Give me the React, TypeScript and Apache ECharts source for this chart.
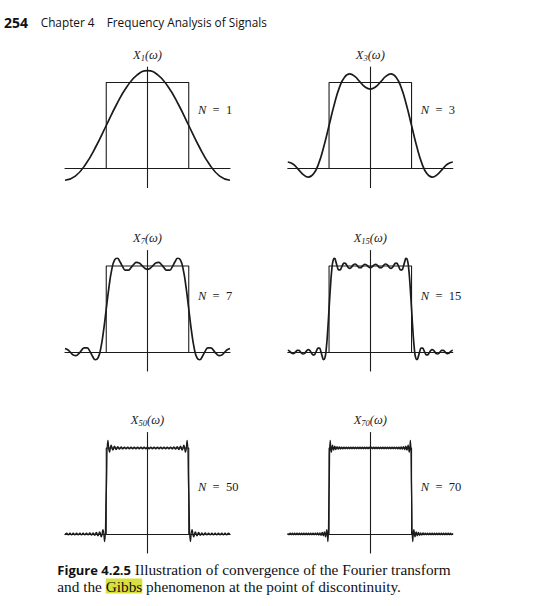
import React, { useEffect, useRef } from 'react';
import * as echarts from 'echarts';

// ω axis in degrees, from -π (-180) to π (180)
const omegaStart = -180;

// X1(ω), sampled every 22.5°
const x1Step = 22.5;
const x1Values = [-0.137, -0.088, 0.050, 0.256, 0.5, 0.744, 0.950, 1.088, 1.137, 1.088, 0.950, 0.744, 0.5, 0.256, 0.050, -0.088, -0.137];

// X3(ω), sampled every 11.25°
const x3Step = 11.25;
const x3Values = [0.076, 0.052, -0.007, -0.071, -0.100, -0.062, 0.060, 0.258, 0.5, 0.742, 0.940, 1.062, 1.100, 1.071, 1.007, 0.948, 0.924, 0.948, 1.007, 1.071, 1.100, 1.062, 0.940, 0.742, 0.5, 0.258, 0.060, -0.062, -0.100, -0.071, -0.007, 0.052, 0.076];

// X7(ω), sampled every 6°
const x7Step = 6;
const x7Values = [0.039, 0.026, -0.005, -0.034, -0.041, -0.020, 0.019, 0.049, 0.049, 0.010, -0.049, -0.090, -0.069, 0.042, 0.243, 0.5, 0.757, 0.958, 1.069, 1.090, 1.049, 0.990, 0.951, 0.951, 0.981, 1.020, 1.041, 1.034, 1.005, 0.974,
  0.961,
  0.974, 1.005, 1.034, 1.041, 1.020, 0.981, 0.951, 0.951, 0.990, 1.049, 1.090, 1.069, 0.958, 0.757, 0.5, 0.243, 0.042, -0.069, -0.090, -0.049, 0.010, 0.049, 0.049, 0.019, -0.020, -0.041, -0.034, -0.005, 0.026, 0.039];

// X15(ω), sampled every 3°
const x15Step = 3;
const x15Values = [0.020, 0.013, -0.002, -0.016, -0.020, -0.010, 0.007, 0.020, 0.020, 0.006, -0.012, -0.023, -0.019, -0.001, 0.019, 0.028, 0.018, -0.006, -0.029, -0.034, -0.016, 0.018, 0.046, 0.045, 0.009, -0.048, -0.088, -0.068, 0.043, 0.243, 0.5, 0.757, 0.957, 1.068, 1.088, 1.048, 0.991, 0.955, 0.954, 0.982, 1.016, 1.034, 1.029, 1.006, 0.982, 0.972, 0.981, 1.001, 1.019, 1.023, 1.012, 0.994, 0.980, 0.980, 0.993, 1.010, 1.020, 1.016, 1.002, 0.987,
  0.980,
  0.987, 1.002, 1.016, 1.020, 1.010, 0.993, 0.980, 0.980, 0.994, 1.012, 1.023, 1.019, 1.001, 0.981, 0.972, 0.982, 1.006, 1.029, 1.034, 1.016, 0.982, 0.954, 0.955, 0.991, 1.048, 1.088, 1.068, 0.957, 0.757, 0.5, 0.243, 0.043, -0.068, -0.088, -0.048, 0.009, 0.045, 0.046, 0.018, -0.016, -0.034, -0.029, -0.006, 0.018, 0.028, 0.019, -0.001, -0.019, -0.023, -0.012, 0.006, 0.020, 0.020, 0.007, -0.010, -0.020, -0.016, -0.002, 0.013, 0.020];

// X50(ω), ripple extrema every 3.6°
const x50Step = 3.6;
const x50Values = [-0.010, 0.010, -0.010, 0.010, -0.010, 0.010, -0.010, 0.010, -0.010, 0.010, -0.010, 0.010, -0.010, 0.010, -0.010, 0.011, -0.012, 0.013, -0.014, 0.017, -0.020, 0.025, -0.033, 0.049, -0.089, 0.5, 1.089, 0.951, 1.033, 0.975, 1.020, 0.983, 1.014, 0.987, 1.012, 0.989, 1.010, 0.990, 1.010, 0.990, 1.010, 0.990, 1.010, 0.990, 1.010, 0.990, 1.010, 0.990, 1.010, 0.990,
  1.010,
  0.990, 1.010, 0.990, 1.010, 0.990, 1.010, 0.990, 1.010, 0.990, 1.010, 0.990, 1.010, 0.990, 1.010, 0.989, 1.012, 0.987, 1.014, 0.983, 1.020, 0.975, 1.033, 0.951, 1.089, 0.5, -0.089, 0.049, -0.033, 0.025, -0.020, 0.017, -0.014, 0.013, -0.012, 0.011, -0.010, 0.010, -0.010, 0.010, -0.010, 0.010, -0.010, 0.010, -0.010, 0.010, -0.010, 0.010, -0.010, 0.010, -0.010];

// X70(ω), ripple extrema every 2.5°
const x70Step = 2.5;
const x70Values = [0.008, -0.008, 0.008, -0.008, 0.008, -0.008, 0.008, -0.008, 0.008, -0.008, 0.008, -0.008, 0.008, -0.008, 0.008, -0.008, 0.008, -0.008, 0.008, -0.008, 0.008, -0.008, 0.008, -0.008, 0.008,
  -0.009, 0.011, -0.012, 0.013, -0.014, 0.017, -0.020, 0.025, -0.033, 0.049, -0.089, 0.5, 1.089, 0.951, 1.033, 0.975, 1.020, 0.983, 1.014, 0.987, 1.012, 0.989, 1.009,
  0.991, 1.008, 0.992, 1.008, 0.992, 1.008, 0.992, 1.008, 0.992, 1.008, 0.992, 1.008, 0.992, 1.008, 0.992, 1.008, 0.992, 1.008, 0.992, 1.008, 0.992, 1.008, 0.992, 1.008,
  0.992,
  1.008, 0.992, 1.008, 0.992, 1.008, 0.992, 1.008, 0.992, 1.008, 0.992, 1.008, 0.992, 1.008, 0.992, 1.008, 0.992, 1.008, 0.992, 1.008, 0.992, 1.008, 0.992, 1.008, 0.991,
  1.009, 0.989, 1.012, 0.987, 1.014, 0.983, 1.020, 0.975, 1.033, 0.951, 1.089, 0.5, -0.089, 0.049, -0.033, 0.025, -0.020, 0.017, -0.014, 0.013, -0.012, 0.011, -0.009,
  0.008, -0.008, 0.008, -0.008, 0.008, -0.008, 0.008, -0.008, 0.008, -0.008, 0.008, -0.008, 0.008, -0.008, 0.008, -0.008, 0.008, -0.008, 0.008, -0.008, 0.008, -0.008, 0.008, -0.008, 0.008];

// ideal rectangular spectrum X(ω), cutoff ωc = π/2
const rectOmega = [-90, -90, 90, 90];
const rectValue = [0, 1, 1, 0];

const panelN = ['1', '3', '7', '15', '50', '70'];
const panelValues = [x1Values, x3Values, x7Values, x15Values, x50Values, x70Values];
const panelSteps = [x1Step, x3Step, x7Step, x15Step, x50Step, x70Step];

const INK = '#1b1b1b';
const SERIF = '"Liberation Serif", "DejaVu Serif", serif';
const SANS = '"Open Sans", "Noto Sans", sans-serif';
const NB = '\u00A0';

export default function App() {
  const ref = useRef<HTMLDivElement>(null);

  useEffect(() => {
    if (!ref.current) return;
    const chart = echarts.init(ref.current, null, { renderer: 'svg' });

    const colCenters = [147.5, 370.3];
    const baselines = [168.5, 352, 534];
    const nLabelY = [110, 296, 486.5];
    const halfW = 82.5;
    const unit = 86;
    const yMax = 1.18;
    const yMin = -0.22;

    const grids: any[] = [];
    const xAxes: any[] = [];
    const yAxes: any[] = [];
    const series: any[] = [];
    const graphics: any[] = [];

    panelN.forEach((n, i) => {
      const col = i % 2;
      const row = Math.floor(i / 2);
      const cx = colCenters[col];
      const base = baselines[row];
      grids.push({
        left: cx - halfW,
        top: base - yMax * unit,
        width: halfW * 2,
        height: (yMax - yMin) * unit,
        containLabel: false,
      });
      xAxes.push({
        gridIndex: i,
        type: 'value',
        min: -180,
        max: 180,
        axisLine: { show: true, onZero: true, lineStyle: { color: INK, width: 1.1 } },
        axisTick: { show: false },
        axisLabel: { show: false },
        splitLine: { show: false },
      });
      yAxes.push({
        gridIndex: i,
        type: 'value',
        min: yMin,
        max: yMax,
        name: `{x|X}{s|${n}}{x|(ω)}`,
        nameLocation: 'end',
        nameGap: 5,
        nameTextStyle: {
          rich: {
            x: { fontFamily: SERIF, fontStyle: 'italic', fontSize: 12.5, color: INK, lineHeight: 15 },
            s: { fontFamily: SERIF, fontStyle: 'italic', fontSize: 8.5, color: INK, lineHeight: 9, verticalAlign: 'bottom' },
          },
        },
        axisLine: { show: true, onZero: true, lineStyle: { color: INK, width: 1.1 } },
        axisTick: { show: false },
        axisLabel: { show: false },
        splitLine: { show: false },
      });
      series.push({
        type: 'line',
        xAxisIndex: i,
        yAxisIndex: i,
        data: rectOmega.map((w, k) => [w, rectValue[k]]),
        symbol: 'none',
        lineStyle: { color: INK, width: 1.1 },
        silent: true,
        z: 2,
      });
      const vals = panelValues[i];
      const step = panelSteps[i];
      series.push({
        type: 'line',
        xAxisIndex: i,
        yAxisIndex: i,
        data: vals.map((v, k) => [omegaStart + k * step, v]),
        symbol: 'none',
        smooth: true,
        lineStyle: { color: INK, width: i < 4 ? 1.7 : 1.4 },
        silent: true,
        z: 3,
      });
      graphics.push({
        type: 'text',
        x: cx + 50.5,
        y: nLabelY[row],
        style: {
          text: `{i|N}${NB} =${NB} ${n}`,
          font: `12.5px ${SERIF}`,
          fill: INK,
          verticalAlign: 'middle',
          textVerticalAlign: 'middle',
          rich: {
            i: { fontFamily: SERIF, fontStyle: 'italic', fontSize: 12.5, fill: INK },
          },
        },
      });
    });

    // page header
    graphics.push(
      { type: 'text', x: 4, y: 22, style: { text: '254', font: `bold 14px ${SANS}`, fill: '#111', verticalAlign: 'middle', textVerticalAlign: 'middle' } },
      { type: 'text', x: 40.7, y: 22, style: { text: 'Chapter 4', font: `11.8px ${SANS}`, fill: '#111', verticalAlign: 'middle', textVerticalAlign: 'middle' } },
      { type: 'text', x: 106.7, y: 22, style: { text: 'Frequency Analysis of Signals', font: `11.8px ${SANS}`, fill: '#111', verticalAlign: 'middle', textVerticalAlign: 'middle' } },
    );

    // caption
    graphics.push(
      {
        type: 'text', x: 57.3, y: 569.5,
        style: {
          text: '{b|Figure 4.2.5} {t|Illustration of convergence of the Fourier transform}',
          font: `15.3px ${SERIF}`,
          lineHeight: 14,
          fill: '#111',
          verticalAlign: 'middle',
          textVerticalAlign: 'middle',
          rich: {
            b: { fontFamily: SANS, fontWeight: 'bold', fontSize: 13, fill: '#111', lineHeight: 14 },
            t: { fontFamily: SERIF, fontSize: 15.3, fill: '#111', lineHeight: 14 },
          },
        },
      },
      {
        type: 'text', x: 57.3, y: 586,
        style: {
          text: '{t|and the }{h|Gibbs}{t| phenomenon at the point of discontinuity.}',
          font: `15.3px ${SERIF}`,
          lineHeight: 14,
          fill: '#111',
          verticalAlign: 'middle',
          textVerticalAlign: 'middle',
          rich: {
            t: { fontFamily: SERIF, fontSize: 15.3, fill: '#111', lineHeight: 14 },
            h: { fontFamily: SERIF, fontSize: 15.3, fill: '#111', backgroundColor: '#d8e03c', lineHeight: 12 },
          },
        },
      },
    );

    chart.setOption({
      animation: false,
      backgroundColor: '#ffffff',
      grid: grids,
      xAxis: xAxes,
      yAxis: yAxes,
      series,
      graphic: graphics,
    });

    return () => chart.dispose();
  }, []);

  return (
    <div
      ref={ref}
      style={{ position: 'fixed', left: 0, top: 0, width: 540, height: 606, background: '#ffffff' }}
    />
  );
}
